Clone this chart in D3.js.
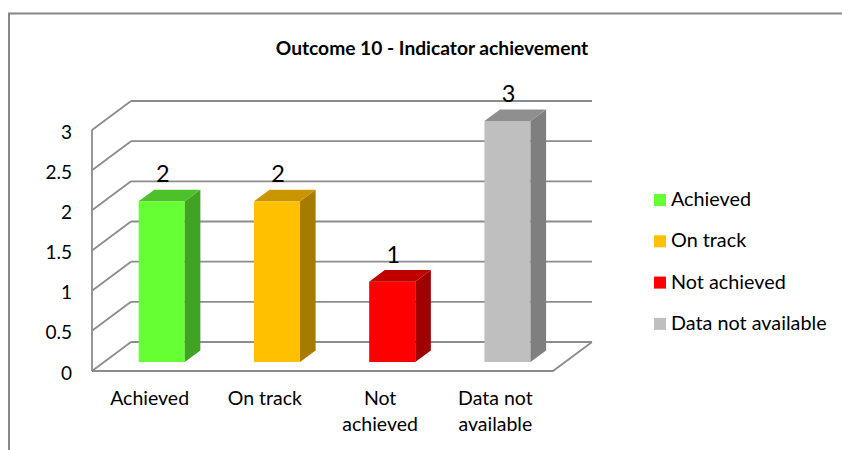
<!DOCTYPE html>
<html>
<head>
<meta charset="utf-8">
<script src="https://cdn.jsdelivr.net/npm/d3@7/dist/d3.min.js"></script>
<style>
  html, body { margin: 0; padding: 0; background: #ffffff; }
  svg { display: block; }
  text { font-family: Lato, "Liberation Sans", sans-serif; fill: #000; }
</style>
</head>
<body>
<svg id="chart" width="842" height="450"></svg>
<script>
// ---- data ----
const title = "Outcome 10 - Indicator achievement";
const categories = ["Achieved", "On track", "Not achieved", "Data not available"];
const categoryLines = [["Achieved"], ["On track"], ["Not", "achieved"], ["Data not", "available"]];
const values = [2, 2, 1, 3];
const yTicks = [0, 0.5, 1, 1.5, 2, 2.5, 3];
const yTickLabels = ["0", "0.5", "1", "1.5", "2", "2.5", "3"];
const frontColors = ["#66FF33", "#FFC000", "#FF0000", "#BFBFBF"];
const topColors = ["#4CC12A", "#C99600", "#C00000", "#8F8F8F"];
const sideColors = ["#41A323", "#A67C00", "#A00000", "#7F7F7F"];

// ---- layout ----
const svg = d3.select("#chart");
const W = 842, H = 450;
const frontLeft = 92, frontRight = 553;
const depthDX = 39, depthDY = -29;
const barDepthStart = 0.31, barDepthEnd = 0.71;

const y = d3.scaleLinear().domain([0, 3]).range([371, 130]);
const x = d3.scaleBand().domain(categories).range([frontLeft, frontRight])
  .paddingInner(0.6).paddingOuter(0.3);
const color = d3.scaleOrdinal().domain(categories).range(frontColors);

// outer chart frame
svg.append("path")
  .attr("d", `M9,${H + 5} L9,13.5 L${W + 5},13.5`)
  .attr("fill", "none").attr("stroke", "#888").attr("stroke-width", 2);

// title
svg.append("text").attr("x", 432).attr("y", 55)
  .attr("text-anchor", "middle").style("font-weight", "bold").style("font-size", "19.2px")
  .text(title);

const grid = svg.append("g").attr("fill", "none").attr("stroke", "#8c8c8c").attr("stroke-width", 1.8);

// floor
grid.append("path")
  .attr("d", `M${frontLeft},${y(0)} L${frontRight},${y(0)} L${frontRight + depthDX},${y(0) + depthDY}`);
// back wall gridlines + left wall diagonals
yTicks.forEach(t => {
  grid.append("line")
    .attr("x1", frontLeft + depthDX).attr("x2", frontRight + depthDX)
    .attr("y1", y(t) + depthDY).attr("y2", y(t) + depthDY);
  grid.append("line")
    .attr("x1", frontLeft).attr("x2", frontLeft + depthDX)
    .attr("y1", y(t)).attr("y2", y(t) + depthDY);
});
// left wall front edge
grid.append("line").attr("x1", frontLeft).attr("x2", frontLeft)
  .attr("y1", y(0)).attr("y2", y(3));

// y axis labels
const yAxis = d3.axisLeft(y).tickValues(yTicks)
  .tickFormat((d, i) => yTickLabels[i]).tickSize(0).tickPadding(0);
const ya = svg.append("g").attr("transform", "translate(72,2)").call(yAxis);
ya.select(".domain").remove();
ya.selectAll("text").style("font-family", "Lato, 'Liberation Sans', sans-serif")
  .style("font-size", "19px").attr("fill", "#000");

// bars
const ox = depthDX * barDepthStart, oy = depthDY * barDepthStart;
const bdx = depthDX * (barDepthEnd - barDepthStart), bdy = depthDY * (barDepthEnd - barDepthStart);
const bars = svg.append("g");
categories.forEach((c, i) => {
  const v = values[i];
  const x0 = x(c) + ox, x1 = x0 + x.bandwidth();
  const yb = y(0) + oy, yt = y(v) + oy;
  // front
  bars.append("rect").attr("x", x0).attr("y", yt).attr("width", x.bandwidth()).attr("height", yb - yt)
    .attr("fill", color(c));
  // side
  bars.append("path")
    .attr("d", `M${x1},${yb} L${x1 + bdx},${yb + bdy} L${x1 + bdx},${yt + bdy} L${x1},${yt} Z`)
    .attr("fill", sideColors[i]);
  // top
  bars.append("path")
    .attr("d", `M${x0},${yt} L${x0 + bdx},${yt + bdy} L${x1 + bdx},${yt + bdy} L${x1},${yt} Z`)
    .attr("fill", topColors[i]);
  // value label
  bars.append("text").attr("x", x0 + x.bandwidth() / 2 + 1).attr("y", yt - 19)
    .attr("text-anchor", "middle").style("font-size", "23.5px").text(v);
});

// category labels
categories.forEach((c, i) => {
  const t = svg.append("text").attr("text-anchor", "middle").style("font-size", "19.5px");
  categoryLines[i].forEach((line, j) => {
    t.append("tspan").attr("x", x(c) + x.bandwidth() / 2).attr("y", 405 + j * 26).text(line);
  });
});

// legend
const legend = svg.append("g");
categories.forEach((c, i) => {
  const cy = 199 + i * 41.3;
  legend.append("rect").attr("x", 654).attr("y", cy - 5).attr("width", 12).attr("height", 12)
    .attr("fill", color(c));
  legend.append("text").attr("x", 671).attr("y", cy + 7).style("font-size", "19.8px").text(c);
});
</script>
</body>
</html>
